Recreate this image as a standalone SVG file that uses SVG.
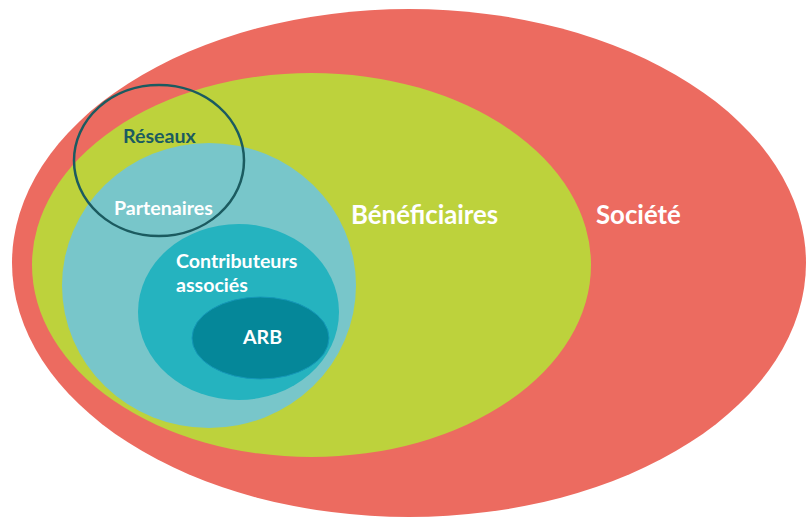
<svg xmlns="http://www.w3.org/2000/svg" width="812" height="517" viewBox="0 0 812 517">
  <style>
    .lbl { font-family: Lato, "Open Sans", "Liberation Sans", sans-serif; font-weight: 700; fill: #ffffff; }
    .sm { font-size: 19.6px; }
    .lg { font-size: 25.8px; }
    .dark { fill: #1b5b60; }
  </style>
  <rect width="812" height="517" fill="#ffffff"/>

  <g id="societe">
    <ellipse cx="409" cy="263" rx="397" ry="254" fill="#ec6b60"/>
    <text class="lbl lg" x="596" y="224">Société</text>
  </g>

  <g id="beneficiaires">
    <ellipse cx="311.5" cy="265" rx="279.5" ry="192" fill="#bdd23c"/>
    <text class="lbl lg" x="351" y="224">Bénéficiaires</text>
  </g>

  <g id="partenaires">
    <ellipse cx="209" cy="285.5" rx="147" ry="142.5" fill="#78c6ca"/>
    <text class="lbl sm" x="114" y="215">Partenaires</text>
  </g>

  <g id="contributeurs">
    <ellipse cx="238.5" cy="312" rx="100.5" ry="88" fill="#25b3bf"/>
    <text class="lbl sm" x="176" y="268">Contributeurs</text>
    <text class="lbl sm" x="176" y="292">associés</text>
  </g>

  <g id="arb">
    <ellipse cx="260.5" cy="338" rx="68.5" ry="41" fill="#058799" stroke="#1598b8" stroke-width="1"/>
    <text class="lbl sm" x="243" y="344">ARB</text>
  </g>

  <g id="reseaux">
    <ellipse cx="159" cy="160.5" rx="85" ry="75.5" fill="none" stroke="#1b5b60" stroke-width="2.5"/>
    <text class="lbl sm dark" x="123" y="143">Réseaux</text>
  </g>

  <g id="connectors"/>
</svg>
